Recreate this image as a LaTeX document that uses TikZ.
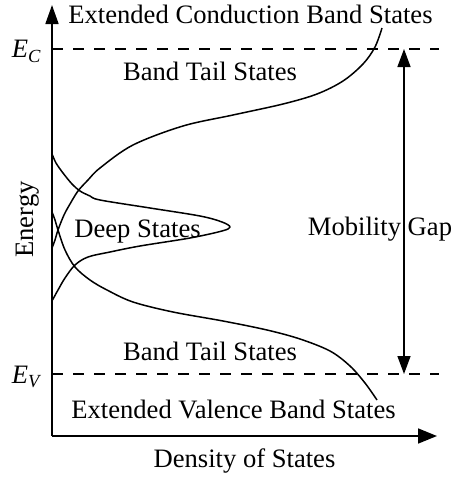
\documentclass[tikz,border=0pt]{standalone}
\usepackage{fontspec}
\setmainfont{Liberation Serif}
\usetikzlibrary{arrows.meta}
\begin{document}
\begin{tikzpicture}[x=1pt,y=-1pt,
  lbl/.style={inner sep=0pt, outer sep=0pt, anchor=base, font=\fontsize{26.6}{32}\selectfont},
  axisline/.style={line width=1.7pt},
  curve/.style={line width=1.5pt, line join=round},
  level/.style={line width=1.5pt, dash pattern=on 11pt off 10pt},
  tip/.style={Triangle[length=19pt,width=13pt]},
  gaptip/.style={Triangle[length=18pt,width=13pt]}]
\useasboundingbox (0,0) rectangle (453,477);
% coordinates
\coordinate (o) at (52,436);
\coordinate (ytop) at (52,5);
\coordinate (xend) at (437,436);
\coordinate (ecl) at (52,49);
\coordinate (ecr) at (439,49);
\coordinate (evl) at (52,374);
\coordinate (evr) at (439,374);
\coordinate (gtop) at (404,49);
\coordinate (gbot) at (404,374);
% level lines
\draw[level] (ecl) -- (ecr);
\draw[level] (evl) -- (evr);
% axes
\draw[axisline, -{Triangle[length=19pt,width=13pt]}] (o) -- (ytop);
\draw[axisline, -{Triangle[length=19pt,width=15pt]}] (o) -- (xend);
% mobility gap arrow
\draw[line width=1.5pt, {Triangle[length=18pt,width=13pt]}-{Triangle[length=18pt,width=13pt]}] (gbot) -- (gtop);
% conduction band tail
\draw[curve] plot[smooth, tension=0.55] coordinates {(52,248) (55,240) (58,230) (64,215) (70,204) (78,191) (88,180) (100,168) (133,145) (183,126) (233,115) (283,104) (317,94) (343,81) (363,64) (375,47) (382,28)};
% valence band tail
\draw[curve] plot[smooth, tension=0.55] coordinates {(52,212) (55,220) (58,230) (65,250) (75,267) (90,280) (107,290) (133,302) (173,312) (223,321) (267,330) (300,339) (330,351) (350,366) (365,383) (377,400)};
% deep states
\draw[curve] plot[smooth, tension=0.55] coordinates {(52.5,155) (56,163) (63,173) (72,184) (80,191) (90,196) (100,200) (150,208) (200,216) (222,222) (230,227) (222,231) (190,238) (140,246) (110,252) (88,257) (75,265) (65,278) (58,290) (52.5,300)};
% labels
\node[lbl] (ecb) at (250.5,23) {Extended Conduction Band States};
\node[lbl] (btt) at (210,80) {Band Tail States};
\node[lbl] (deep) at (137.5,237) {Deep States};
\node[lbl] (mob) at (380,235) {Mobility Gap};
\node[lbl] (btb) at (210,360) {Band Tail States};
\node[lbl] (evb) at (233.5,418) {Extended Valence Band States};
\node[lbl] (dos) at (244.5,467) {Density of States};
\node[lbl, rotate=90] (en) at (33,219.5) {Energy};
\node[lbl, anchor=base west] (ec) at (12,57) {\textit{E}\raisebox{-5pt}{\fontsize{18.5}{20}\selectfont\textit{C}}};
\node[lbl, anchor=base west] (ev) at (12,383) {\textit{E}\raisebox{-4pt}{\fontsize{18.5}{20}\selectfont\textit{V}}};
\end{tikzpicture}
\end{document}
